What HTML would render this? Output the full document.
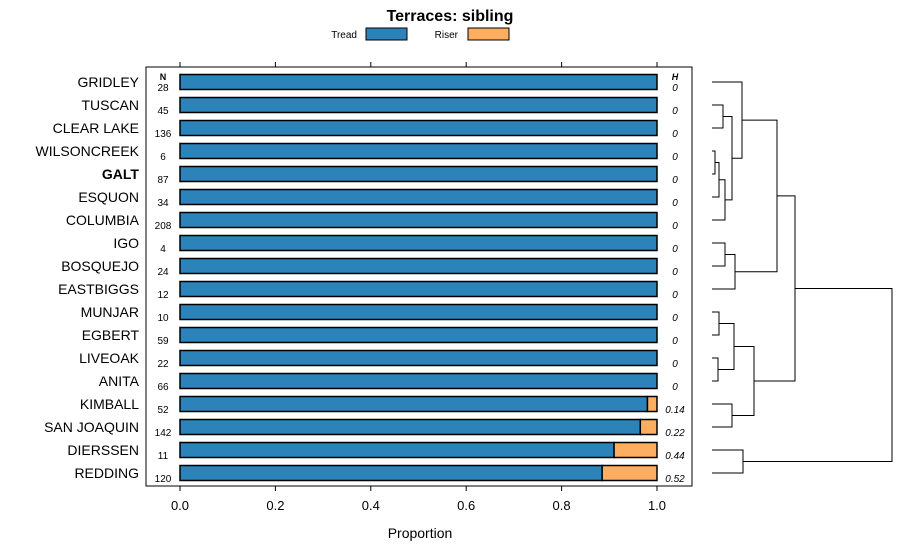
<!DOCTYPE html>
<html><head><meta charset="utf-8"><style>
body{margin:0;background:#fff}
svg{font-family:"Liberation Sans",sans-serif;display:block}
</style></head><body>
<svg id="c" width="900" height="560">
<text x="450" y="21" text-anchor="middle" font-size="16" font-weight="bold">Terraces: sibling</text>
<g>
<text x="357" y="38" text-anchor="end" font-size="10">Tread</text>
<rect x="366" y="28" width="41" height="12" fill="#2b83ba" stroke="#000"/>
<text x="458" y="38" text-anchor="end" font-size="10">Riser</text>
<rect x="468" y="28" width="41" height="12" fill="#fdae61" stroke="#000"/>
</g>
<rect x="146" y="67" width="546" height="419" fill="none" stroke="#000"/>
<text x="163" y="80" text-anchor="middle" font-size="9" font-weight="bold">N</text>
<text x="675" y="80" text-anchor="middle" font-size="9" font-weight="bold" font-style="italic">H</text>
<text x="420" y="538" text-anchor="middle" font-size="14">Proportion</text>
</svg>
<script>
const categories=["GRIDLEY","TUSCAN","CLEAR LAKE","WILSONCREEK","GALT","ESQUON","COLUMBIA","IGO","BOSQUEJO","EASTBIGGS","MUNJAR","EGBERT","LIVEOAK","ANITA","KIMBALL","SAN JOAQUIN","DIERSSEN","REDDING"];
const treadValues=[1,1,1,1,1,1,1,1,1,1,1,1,1,1,0.98,0.965,0.91,0.885];
const nValues=[28,45,136,6,87,34,208,4,24,12,10,59,22,66,52,142,11,120];
const hLabels=["0","0","0","0","0","0","0","0","0","0","0","0","0","0","0.14","0.22","0.44","0.52"];
const tickValues=[0,0.2,0.4,0.6,0.8,1.0];
const tickLabels=["0.0","0.2","0.4","0.6","0.8","1.0"];
const boldCategory="GALT";
const svg=document.getElementById('c');
const NS="http://www.w3.org/2000/svg";
const xs=v=>180+v*477;
const ys=i=>82+i*23;
function mk(t,a){const e=document.createElementNS(NS,t);for(const k in a)e.setAttribute(k,a[k]);svg.appendChild(e);return e;}
tickValues.forEach((v,i)=>{
 let t=mk('line',{x1:xs(v),x2:xs(v),y1:486,y2:491,stroke:'#000'});
 
 
 let t2=mk('line',{x1:xs(v),x2:xs(v),y1:62,y2:67,stroke:'#000'});
 
 
 let l=mk('text',{x:xs(v),y:510,'text-anchor':'middle','font-size':13});
 l.textContent=tickLabels[i];
 
 
});
categories.forEach((c,i)=>{
 const y=ys(i);
 let lab=mk('text',{x:139,y:y+5,'text-anchor':'end','font-size':14,'font-weight':c===boldCategory?'bold':'normal'});
 lab.textContent=c;
 
 
 let b1=mk('rect',{x:xs(0),y:y-7.5,width:xs(treadValues[i])-xs(0),height:15,fill:'#2b83ba',stroke:'#000','stroke-width':1.5});
 
 
 if(treadValues[i]<1){
  let b2=mk('rect',{x:xs(treadValues[i]),y:y-7.5,width:xs(1)-xs(treadValues[i]),height:15,fill:'#fdae61',stroke:'#000','stroke-width':1.5});
  
  
 }
 let n=mk('text',{x:163,y:y+9,'text-anchor':'middle','font-size':10});
 n.textContent=nValues[i];
 
 
 let h=mk('text',{x:675,y:y+9,'text-anchor':'middle','font-size':10,'font-style':'italic'});
 h.textContent=hLabels[i];
 
 
});
// dendrogram merges: [childA, childB, height x]; children: leaf index or 'mN'
const merges=[[3,4,715],[10,11,719],[12,13,718],['m0',5,719],[1,2,723],[7,8,725],['m3',6,725],[14,15,732],[16,17,743],['m4','m6',732],['m5',9,735],['m1','m2',734],[0,'m9',742],['m11','m7',754],['m12','m10',777],['m14','m13',795],['m15','m8',892]];
const node={};
function pos(c){if(typeof c==='number')return {x:712,y:ys(c)};return node[c];}
merges.forEach((m,k)=>{
 const a=pos(m[0]),b=pos(m[1]),x=m[2];
 let p=mk('path',{d:`M${a.x},${a.y}H${x}V${b.y}H${b.x}`,fill:'none',stroke:'#000','stroke-width':1});
 
 
 node['m'+k]={x:x,y:(a.y+b.y)/2};
});
</script>
</body></html>
